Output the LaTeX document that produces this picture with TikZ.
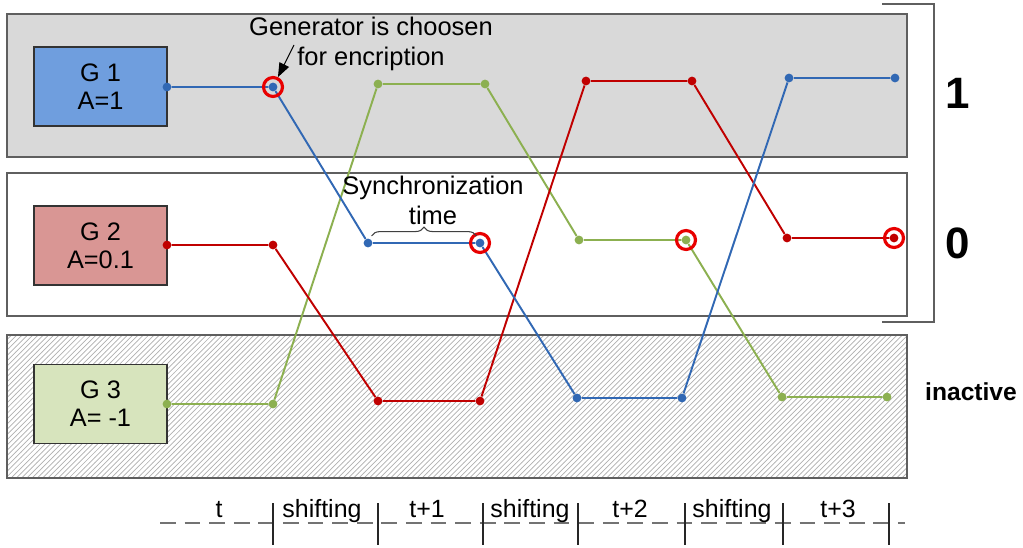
\documentclass[tikz,border=0pt]{standalone}
\usepackage{fontspec}
\setmainfont{Liberation Sans}
\usetikzlibrary{patterns}
\usetikzlibrary{decorations.pathreplacing}
\usetikzlibrary{arrows.meta}

\definecolor{bandgray}{RGB}{217,217,217}
\definecolor{bandedge}{RGB}{95,95,95}
\definecolor{hatchgray}{RGB}{175,175,175}
\definecolor{gone}{RGB}{111,158,222}
\definecolor{gtwo}{RGB}{217,150,148}
\definecolor{gthree}{RGB}{215,228,189}
\definecolor{lineblue}{RGB}{49,104,180}
\definecolor{linered}{RGB}{192,0,0}
\definecolor{linegreen}{RGB}{140,176,80}
\definecolor{ringred}{RGB}{232,0,0}

\tikzset{
  band/.style={draw=bandedge, line width=0.9pt},
  genbox/.style={draw=black!80, line width=0.8pt, minimum width=2.66cm, minimum height=1.58cm,
    align=center, font=\fontsize{14.4}{16}\selectfont},
  dot/.style={circle, fill, inner sep=0pt, minimum size=5pt},
  ring/.style={circle, draw=ringred, line width=1.8pt, minimum size=10.8pt, inner sep=0pt},
  trace/.style={line width=1.1pt},
  lbl/.style={align=center, font=\fontsize{14.5}{17}\selectfont},
  tlbl/.style={anchor=base, inner sep=0pt, font=\fontsize{14.2}{16}\selectfont},
  pointer/.style={-{Triangle[length=8pt,width=6pt]}, line width=0.6pt, black},
  syncbrace/.style={decorate, decoration={brace, amplitude=5pt}, draw=black!75, line width=0.6pt},
  axis/.style={draw=black!55, line width=0.6pt, dash pattern=on 9pt off 5pt},
  tick/.style={draw=black!85, line width=0.6pt},
  bracket/.style={draw=bandedge, line width=0.7pt},
}

\begin{document}
\begin{tikzpicture}[x=0.02cm,y=-0.02cm]
\useasboundingbox (0,0) rectangle (1023,547);

% bands
\draw[band, fill=bandgray] (7,14) rectangle (907,157);
\draw[band, fill=white] (7,173) rectangle (907,316);
\draw[band, pattern=north east lines, pattern color=hatchgray] (7,335) rectangle (907,478);
\draw[bracket] (882,4) -- (934,4) -- (934,322) -- (882,322);
\node[font=\fontsize{25}{25}\selectfont\bfseries] (one) at (958,93) {1};
\node[font=\fontsize{25}{25}\selectfont\bfseries] (zero) at (958,243) {0};
\node[font=\fontsize{14}{16}\selectfont\bfseries] (inactive) at (971,392) {inactive};

% generators
\node[genbox, fill=gone] (g1) at (100.5,86.5) {G 1\\A=1};
\node[genbox, fill=gtwo] (g2) at (100.5,245.5) {G 2\\A=0.1};
\node[genbox, fill=gthree] (g3) at (100.5,404) {G 3\\A= -1};

% blue dots
\node[dot, lineblue] (b0) at (167,87) {};
\node[dot, lineblue] (b1) at (273,87) {};
\node[dot, lineblue] (b2) at (368,243) {};
\node[dot, lineblue] (b3) at (480,243) {};
\node[dot, lineblue] (b4) at (577,398) {};
\node[dot, lineblue] (b5) at (682,398) {};
\node[dot, lineblue] (b6) at (789,78) {};
\node[dot, lineblue] (b7) at (895,78) {};
% red dots
\node[dot, linered] (r0) at (167,245) {};
\node[dot, linered] (r1) at (273,245) {};
\node[dot, linered] (r2) at (378,401) {};
\node[dot, linered] (r3) at (480,401) {};
\node[dot, linered] (r4) at (586,81) {};
\node[dot, linered] (r5) at (692,81) {};
\node[dot, linered] (r6) at (787,238) {};
\node[dot, linered] (r7) at (894,238) {};
% green dots
\node[dot, linegreen] (n0) at (167,404) {};
\node[dot, linegreen] (n1) at (273,404) {};
\node[dot, linegreen] (n2) at (378,84) {};
\node[dot, linegreen] (n3) at (485,84) {};
\node[dot, linegreen] (n4) at (579,240) {};
\node[dot, linegreen] (n5) at (686,240) {};
\node[dot, linegreen] (n6) at (782,397) {};
\node[dot, linegreen] (n7) at (887,397) {};

\draw[trace, linegreen] (n0) -- (n1) -- (n2) -- (n3) -- (n4) -- (n5) -- (n6) -- (n7);
\draw[trace, linered] (r0) -- (r1) -- (r2) -- (r3) -- (r4) -- (r5) -- (r6) -- (r7);
\draw[trace, lineblue] (b0) -- (b1) -- (b2) -- (b3) -- (b4) -- (b5) -- (b6) -- (b7);

% chosen generator
\node[ring] (k1) at (b1) {};
\node[ring] (k2) at (b3) {};
\node[ring] (k3) at (n5) {};
\node[ring] (k4) at (r7) {};

\node[lbl] (gen) at (371,44) {Generator is choosen\\for encription};
\coordinate (gentail) at (294,45);
\draw[pointer] (gentail) -- (k1);

\node[lbl] (sync) at (433,200) {Synchronization\\time};
\draw[syncbrace] ([xshift=2pt,yshift=4pt]b2.center) -- ([xshift=-2pt,yshift=4pt]b3.center);

% time axis
\coordinate (axl) at (160,523);
\coordinate (axr) at (905,523);
\draw[axis] (axl) -- (axr);
\foreach \x in {273,378,483,578,685,783,889}
  \draw[tick] (\x,503) -- (\x,545);
\node[tlbl] (p0) at (219,517) {t};
\node[tlbl] (s1) at (322,517) {shifting};
\node[tlbl] (p1) at (427,517) {t+1};
\node[tlbl] (s2) at (530,517) {shifting};
\node[tlbl] (p2) at (630,517) {t+2};
\node[tlbl] (s3) at (732,517) {shifting};
\node[tlbl] (p3) at (838,517) {t+3};

\end{tikzpicture}
\end{document}
